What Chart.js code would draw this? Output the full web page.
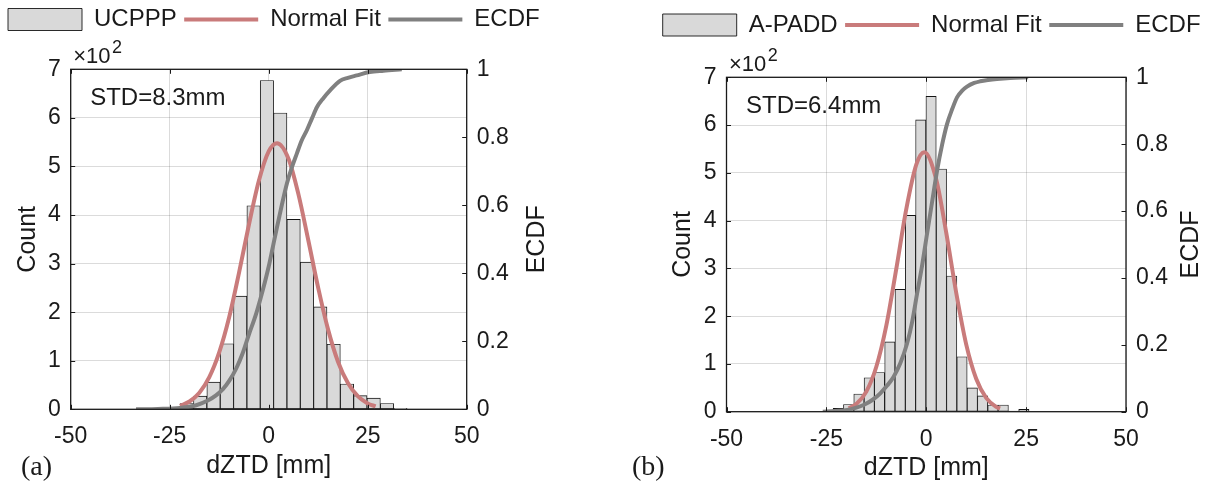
<!DOCTYPE html>
<html><head><meta charset="utf-8"><title>dZTD histograms</title>
<script src="https://cdn.jsdelivr.net/npm/chart.js@4.4.1/dist/chart.umd.min.js"></script>
<style>
html,body{margin:0;padding:0;background:#fff;overflow:hidden;}
#fig{position:relative;width:1211px;height:487px;overflow:hidden;background:#fff;}
.panel{position:absolute;top:0;}
</style></head><body>
<div id="fig">
 <div class="panel" style="left:0px"><canvas id="chartA" width="605" height="487"></canvas></div>
 <div class="panel" style="left:605px"><canvas id="chartB" width="640" height="487"></canvas></div>
</div>
<script>
// ---------------- data ----------------
const xTicks = [-50, -25, 0, 25, 50];
const countTicks = [0, 1, 2, 3, 4, 5, 6, 7];          // labels, ×10^2
const countExponent = '2';
const ecdfTicks = [0, 0.2, 0.4, 0.6, 0.8, 1];

const namesA = ['UCPPP', 'Normal Fit', 'ECDF'];
const namesB = ['A-PADD', 'Normal Fit', 'ECDF'];

// (a) UCPPP histogram: bin centres [mm] and counts
const binsA = [-20.67, -17.30, -13.93, -10.56, -7.19, -3.82, -0.45, 2.92, 6.29, 9.66, 13.03, 16.40, 19.77, 23.14, 26.51, 29.88, 33.25];
const countsA = [12, 27, 56, 135, 233, 419, 677, 610, 391, 303, 211, 134, 52, 28, 23, 12, 2];
// (a) normal fit curve
const fitXA = [-22.4, -20, -17.5, -15, -12.5, -10, -7.5, -5, -2.5, 0, 2.1, 5, 7.5, 10, 12.5, 15, 17.5, 20, 22.5, 25, 27];
const fitYA = [7, 16, 34, 66, 117, 189, 281, 380, 470, 531, 548, 516, 443, 348, 250, 164, 98, 54, 27, 12, 6];
// (a) ECDF curve
const ecdfXA = [-33.5, -28, -22.4, -18.3, -15.5, -13.3, -11.5, -9.9, -8.2, -6.6, -5, -3.2, -1.5, 0, 1, 2.1, 3.3, 4.6, 5.8, 7.1, 8.3, 9.6, 10.9, 12.2, 13.8, 15.5, 18, 20, 22.2, 25.5, 29, 33.6];
const ecdfYA = [0, 0.001, 0.004, 0.012, 0.025, 0.041, 0.06, 0.085, 0.12, 0.164, 0.22, 0.28, 0.35, 0.42, 0.475, 0.536, 0.6, 0.664, 0.71, 0.752, 0.79, 0.82, 0.855, 0.889, 0.915, 0.938, 0.966, 0.975, 0.982, 0.992, 0.996, 1.0];

// (b) A-PADD histogram
const binsB = [-22.01, -19.43, -16.85, -14.27, -11.69, -9.11, -6.53, -3.95, -1.37, 1.21, 3.79, 6.37, 8.95, 11.53, 14.11, 16.69, 19.27, 21.85, 24.43];
const countsB = [7, 15, 37, 71, 82, 146, 256, 411, 611, 660, 508, 284, 115, 50, 33, 14, 14, 1, 5];
const fitXB = [-19.4, -17.5, -15, -12.5, -10, -7.5, -5, -2.5, -0.5, 2.5, 5, 7.5, 10, 12.5, 15, 17.5, 18.5];
const fitYB = [7, 16, 42, 94, 180, 299, 424, 517, 543, 486, 375, 249, 141, 69, 29, 10, 7];
const ecdfXB = [-25.9, -23, -19.8, -17.5, -15.7, -13.5, -11.5, -9.8, -8.2, -6.5, -4.8, -3.5, -2.3, -1, 0.2, 1.5, 2.7, 4, 5.2, 6.5, 7.7, 9, 10.2, 12, 13.5, 15.5, 17.7, 21, 25.5];
const ecdfYB = [0, 0.002, 0.005, 0.012, 0.02, 0.035, 0.055, 0.078, 0.104, 0.145, 0.204, 0.27, 0.353, 0.44, 0.532, 0.63, 0.72, 0.8, 0.86, 0.905, 0.94, 0.96, 0.972, 0.983, 0.988, 0.992, 0.995, 0.998, 1];

const stdA = 'STD=8.3mm';
const stdB = 'STD=6.4mm';
const xTitle = 'dZTD [mm]';
const yTitle = 'Count';
const y2Title = 'ECDF';

// ---------------- styling ----------------
const FONT = "'Liberation Sans', Arial, Helvetica, sans-serif";
const INK = '#1a1a1a';
const BAR_FILL = '#d9d9d9';
const BAR_EDGE = '#141414';
const FIT_COLOR = '#c97b7b';
const ECDF_COLOR = '#808080';
const GRID = 'rgba(0,0,0,0.14)';
Chart.defaults.font.family = FONT;
Chart.defaults.color = INK;

const decor = {
  id: 'decor',
  afterDatasetsDraw(chart, args, o) {
    const {ctx, chartArea: a, scales} = chart;
    const {x, y, y2} = scales;
    ctx.save();
    ctx.strokeStyle = INK;
    ctx.lineWidth = 1;
    const L = 4.5;
    ctx.beginPath();
    x.ticks.forEach(t => { const p = Math.round(x.getPixelForValue(t.value)) + 0.5;
      ctx.moveTo(p, a.bottom); ctx.lineTo(p, a.bottom - L); ctx.moveTo(p, a.top); ctx.lineTo(p, a.top + L); });
    y.ticks.forEach(t => { const p = Math.round(y.getPixelForValue(t.value)) + 0.5;
      ctx.moveTo(a.left, p); ctx.lineTo(a.left + L, p); });
    y2.ticks.forEach(t => { const p = Math.round(y2.getPixelForValue(t.value)) + 0.5;
      ctx.moveTo(a.right, p); ctx.lineTo(a.right - L, p); });
    ctx.stroke();
    ctx.lineWidth = 1.3;
    ctx.strokeRect(a.left, a.top, a.right - a.left, a.bottom - a.top);
    ctx.restore();
  },
  afterDraw(chart, args, o) {
    const {ctx, chartArea: a} = chart;
    ctx.save();
    ctx.fillStyle = INK;
    ctx.textAlign = 'left';
    ctx.textBaseline = 'alphabetic';
    ctx.font = '22px ' + FONT;
    const ex = a.left + 2.5, ey = a.top - 6;
    ctx.fillText('\u00d710', ex, ey);
    const w = ctx.measureText('\u00d710').width;
    ctx.font = '18px ' + FONT;
    ctx.fillText(countExponent, ex + w + 1.5, ey - 10);
    ctx.font = '24px ' + FONT;
    ctx.textBaseline = 'middle';
    ctx.fillText(o.stdText, a.left + 19.5, a.top + 29);
    ctx.save();
    ctx.translate(a.right + o.rightTitleDx, (a.top + a.bottom) / 2);
    ctx.rotate(-Math.PI / 2);
    ctx.textAlign = 'center';
    ctx.font = '25px ' + FONT;
    ctx.fillText(y2Title, 0, 0);
    ctx.restore();
    ctx.font = "28px 'Liberation Serif', 'Times New Roman', serif";
    ctx.textAlign = 'left';
    ctx.fillText(o.tag, o.tagX, o.tagY);
    ctx.restore();
  }
};

function buildPanel(id, d, lay) {
  const bars = d.bins.map((c, i) => ({x: c, y: d.counts[i]}));
  const fit = d.fitX.map((v, i) => ({x: v, y: d.fitY[i]}));
  const ecdf = d.ecdfX.map((v, i) => ({x: v, y: d.ecdfY[i]}));
  return new Chart(document.getElementById(id), {
    type: 'bar',
    data: {datasets: [
      {type: 'bar', label: d.names[0], data: bars, xAxisID: 'x', yAxisID: 'y',
       backgroundColor: BAR_FILL, borderColor: BAR_EDGE, borderWidth: 0.9, borderSkipped: false,
       barPercentage: 1, categoryPercentage: 1, grouped: false, pointStyle: 'rect', order: 3},
      {type: 'line', label: d.names[1], data: fit, xAxisID: 'x', yAxisID: 'y',
       borderColor: FIT_COLOR, backgroundColor: FIT_COLOR, borderWidth: 4, pointRadius: 0,
       pointStyle: 'line', cubicInterpolationMode: 'monotone', fill: false, order: 2},
      {type: 'line', label: d.names[2], data: ecdf, xAxisID: 'x', yAxisID: 'y2',
       borderColor: ECDF_COLOR, backgroundColor: ECDF_COLOR, borderWidth: 4, pointRadius: 0,
       pointStyle: 'line', cubicInterpolationMode: 'monotone', fill: false, order: 1}
    ]},
    options: {
      responsive: false, animation: false, events: [],
      layout: {padding: {left: lay.padL, right: 0, top: lay.padT, bottom: 0}},
      plugins: {
        tooltip: {enabled: false},
        legend: {display: true, position: 'top', align: 'start',
          labels: {usePointStyle: true, pointStyleWidth: 74, boxHeight: 22, padding: 7.5, color: INK,
                   font: {size: 24, family: FONT},
                   sort: (p, q) => p.datasetIndex - q.datasetIndex}},
        decor: {stdText: d.std, tag: d.tag, tagX: lay.tagX, tagY: lay.tagY, rightTitleDx: lay.rightTitleDx}
      },
      scales: {
        x: {type: 'linear', position: 'bottom', min: -50, max: 50, offset: false,
            afterBuildTicks: s => { s.ticks = xTicks.map(v => ({value: v})); },
            ticks: {padding: 14, color: INK, font: {size: 23, family: FONT}, maxRotation: 0, autoSkip: false,
                    callback: v => String(v)},
            grid: {color: GRID, lineWidth: 1, drawTicks: false, offset: false},
            border: {display: false},
            title: {display: true, text: xTitle, color: INK, font: {size: 25, family: FONT},
                    padding: {top: 0, bottom: lay.xTitlePad}},
            afterFit: s => { s.height = lay.H - lay.bottom; }},
        x2: {type: 'linear', position: 'top', min: -50, max: 50, offset: false,
             grid: {display: false, drawTicks: false}, border: {display: false}, ticks: {display: false},
             afterFit: s => { const lg = s.chart.legend; s.height = Math.max(0, lay.top - lay.padT - (lg ? lg.height : 0)); }},
        y: {type: 'linear', position: 'left', min: 0, max: 700,
            afterBuildTicks: s => { s.ticks = countTicks.map(v => ({value: v * 100})); },
            ticks: {padding: 10, color: INK, font: {size: 23, family: FONT}, autoSkip: false,
                    callback: v => String(Math.round(v / 100))},
            grid: {color: GRID, lineWidth: 1, drawTicks: false},
            border: {display: false},
            title: {display: true, text: yTitle, color: INK, font: {size: 25, family: FONT},
                    padding: {top: 13, bottom: 0}},
            afterFit: s => { s.width = lay.left - lay.padL; }},
        y2: {type: 'linear', position: 'right', min: 0, max: 1,
             afterBuildTicks: s => { s.ticks = ecdfTicks.map(v => ({value: v})); },
             ticks: {padding: 10, color: INK, font: {size: 23, family: FONT}, autoSkip: false,
                     callback: v => String(Math.round(v * 10) / 10)},
             grid: {display: false, drawTicks: false},
             border: {display: false},
             afterFit: s => { s.width = lay.W - lay.right; }}
      }
    },
    plugins: [decor]
  });
}

buildPanel('chartA',
  {names: namesA, bins: binsA, counts: countsA, fitX: fitXA, fitY: fitYA, ecdfX: ecdfXA, ecdfY: ecdfYA, std: stdA, tag: '(a)'},
  {W: 605, H: 487, padL: 0.5, padT: 0, left: 70.7, right: 466.7, top: 69.3, bottom: 409.3,
   xTitlePad: 6, rightTitleDx: 70, tagX: 21, tagY: 468});
buildPanel('chartB',
  {names: namesB, bins: binsB, counts: countsB, fitX: fitXB, fitY: fitYB, ecdfX: ecdfXB, ecdfY: ecdfYB, std: stdB, tag: '(b)'},
  {W: 640, H: 487, padL: 50.2, padT: 5.5, left: 121.5, right: 521, top: 77.3, bottom: 411.7,
   xTitlePad: 4, rightTitleDx: 65, tagX: 27, tagY: 468});
</script>
</body></html>
